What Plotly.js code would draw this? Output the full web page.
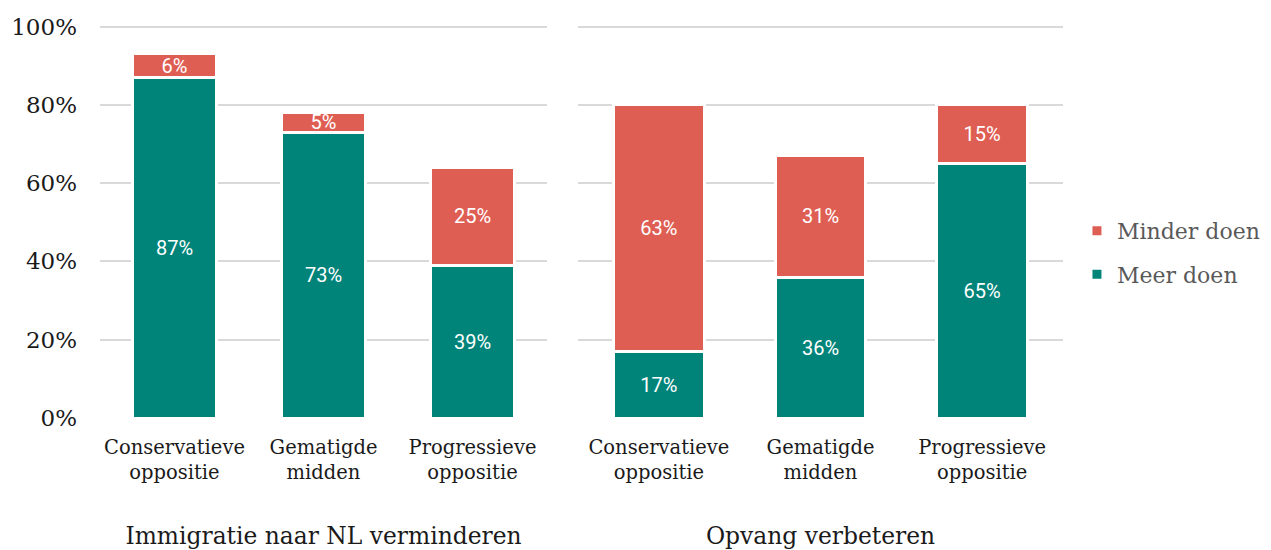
<!DOCTYPE html>
<html>
<head>
<meta charset="utf-8">
<script src="https://cdn.plot.ly/plotly-3.0.1.min.js"></script>
<style>html,body{margin:0;padding:0;background:#fff;}#chart{width:1271px;height:550px;}</style>
</head>
<body>
<div id="chart"></div>
<script>
const categories = ["Conservatieve<br>oppositie", "Gematigde<br>midden", "Progressieve<br>oppositie"];
const panelTitles = ["Immigratie naar NL verminderen", "Opvang verbeteren"];
const seriesNames = ["Meer doen", "Minder doen"];
const meerImmigratie = [87, 73, 39];
const minderImmigratie = [6, 5, 25];
const meerOpvang = [17, 36, 65];
const minderOpvang = [63, 31, 15];
const yTicks = [0, 20, 40, 60, 80, 100];

const teal = "#00847A";
const red = "#DF5E54";
const serif = "DejaVu Serif";

function barTrace(vals, name, color, xa, ya, showLegend, group, rank) {
  return {
    type: "bar", x: categories, y: vals, name: name,
    xaxis: xa, yaxis: ya, showlegend: showLegend, legendgroup: group, legendrank: rank,
    marker: {color: color, line: {color: "#ffffff", width: 3}},
    width: 0.56,
    text: vals.map(v => v + "%"), textposition: "inside", insidetextanchor: "middle",
    constraintext: "none",
    textfont: {family: "Roboto", size: 20, color: "#ffffff"},
    hoverinfo: "skip"
  };
}

const data = [
  barTrace(meerImmigratie, seriesNames[0], teal, "x", "y", true, "meer", 2),
  barTrace(minderImmigratie, seriesNames[1], red, "x", "y", true, "minder", 1),
  barTrace(meerOpvang, seriesNames[0], teal, "x2", "y2", false, "meer", 2),
  barTrace(minderOpvang, seriesNames[1], red, "x2", "y2", false, "minder", 1)
];

const xCommon = {
  type: "category", showgrid: false, zeroline: false, showline: false,
  ticks: "", tickfont: {family: serif, size: 19.5, color: "#1a1a1a"},
  ticklabelstandoff: 15,
  title: {font: {family: serif, size: 23.4, color: "#1a1a1a"}, standoff: 46}
};
const yCommon = {
  range: [0, 100.4], tickvals: yTicks, ticktext: yTicks.map(v => v + "%"),
  showgrid: true, gridcolor: "#d9d9d9", gridwidth: 2, zeroline: false, showline: false,
  fixedrange: true
};

const layout = {
  width: 1271, height: 550,
  margin: {l: 100, r: 208, t: 25, b: 132, autoexpand: false},
  paper_bgcolor: "#ffffff", plot_bgcolor: "#ffffff",
  barmode: "stack", bargap: 0.46,
  font: {family: serif},
  xaxis: Object.assign({}, xCommon, {domain: [0, 0.4642], anchor: "y",
    title: Object.assign({}, xCommon.title, {text: panelTitles[0]})}),
  xaxis2: Object.assign({}, xCommon, {domain: [0.4964, 1], anchor: "y2",
    title: Object.assign({}, xCommon.title, {text: panelTitles[1]})}),
  yaxis: Object.assign({}, yCommon, {anchor: "x", showticklabels: true,
    tickfont: {family: serif, size: 23, color: "#1a1a1a"}, ticklabelstandoff: 22}),
  yaxis2: Object.assign({}, yCommon, {anchor: "x2", showticklabels: false}),
  legend: {
    x: 1.0145, xanchor: "left", y: 0.42, yanchor: "middle",
    traceorder: "grouped", tracegroupgap: 12,
    font: {family: serif, size: 22, color: "#595959"},
    itemwidth: 30
  },
  showlegend: true
};

Plotly.newPlot("chart", data, layout, {staticPlot: true, displayModeBar: false});
</script>
</body>
</html>
